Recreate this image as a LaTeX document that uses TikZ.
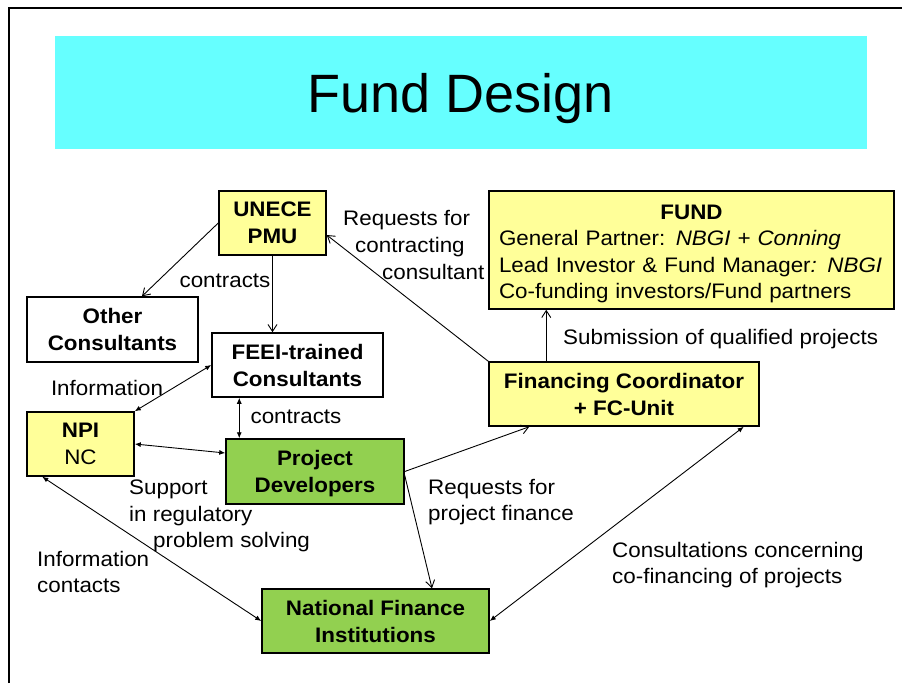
\documentclass[tikz,border=0pt]{standalone}
\usepackage{fontspec}
\setmainfont[FakeStretch=1.066]{Liberation Sans}
\newfontfamily\titlefont{Liberation Sans}
\usetikzlibrary{arrows.meta}
\definecolor{titlecyan}{HTML}{66FFFF}
\definecolor{boxyellow}{HTML}{FFFF99}
\definecolor{boxgreen}{HTML}{92D050}
\tikzset{
	box/.style={draw, line width=1.5pt, inner sep=0pt, text depth=0pt, align=center, font=\fontsize{21}{27}\selectfont\bfseries},
	lbl/.style={inner sep=0pt, align=left, font=\fontsize{21}{26.7}\selectfont},
	arr/.style={line width=0.9pt, -{Straight Barb[length=7pt,width=9pt]}},
	dbl/.style={line width=0.9pt, {Latex[length=6pt,width=5pt]}-{Latex[length=6pt,width=5pt]}}
}

\begin{document}
\begin{tikzpicture}[x=1pt, y=-1pt]
			%%%%% START %%%%%
			\useasboundingbox (0, 0) rectangle (902, 683);
			
			\draw[line width=2pt] (8.5, 683) -- (8.5, 7.5) -- (902, 7.5);
			
			\node[fill=titlecyan, minimum width=812pt, minimum height=113pt, inner sep=0pt, text depth=0pt, font=\titlefont\fontsize{54}{60}\selectfont] (title) at (461, 92.5) {Fund Design};
			
			\node[box, fill=boxyellow, minimum width=107pt, minimum height=64pt] (unece) at (272.5, 223) {UNECE\\PMU};
			\node[box, fill=white, minimum width=171pt, minimum height=65pt] (other) at (112.5, 329.5) {Other\\Consultants};
			\node[box, fill=white, minimum width=171pt, minimum height=64pt] (feei) at (297.5, 365) {FEEI-trained\\Consultants};
			\node[box, fill=boxyellow, minimum width=107pt, minimum height=64pt] (npi) at (80.5, 444) {NPI\\\mdseries NC};
			\node[draw, line width=1.5pt, fill=boxyellow, font=\fontsize{21}{26.4}\selectfont, align=left, text width=385pt, text depth=76pt, inner xsep=10pt, inner ysep=0pt, minimum height=118pt] (fund) at (691.5, 250) {\makebox[\linewidth][c]{\bfseries FUND}\\General Partner: \textit{NBGI + Conning}\\Lead Investor \& Fund Manager\textit{: NBGI}\\Co-funding investors/Fund partners};
			\node[box, fill=boxyellow, minimum width=270pt, minimum height=64pt] (fc) at (624, 394) {Financing Coordinator\\+ FC-Unit};
			\node[box, fill=boxgreen, minimum width=178pt, minimum height=65pt] (pd) at (315, 471.5) {Project\\Developers};
			\node[box, fill=boxgreen, minimum width=227pt, minimum height=64pt] (nfi) at (375.5, 621) {National Finance\\Institutions};
			
			\draw[arr] (unece.west) -- ([xshift=29.5pt]other.north);
			\draw[arr] (unece.south) -- (unece.south |- feei.north);
			\draw[arr] (fc.north west) -- ([yshift=-12pt]unece.east);
			\draw[dbl] (feei.west) -- (npi.north east);
			\draw[dbl] ([xshift=14pt]pd.north west |- feei.south) -- ([xshift=14pt]pd.north west);
			\draw[dbl] (npi.east) -- ([yshift=18.5pt]pd.west);
			\draw[dbl] ([xshift=16pt]npi.south west) -- (nfi.west);
			\draw[arr] ([yshift=-4pt]pd.east) -- ([xshift=56.5pt]nfi.north);
			\draw[arr] (pd.east) -- ([xshift=41pt]fc.south west);
			\draw[dbl] ([xshift=-16pt]fc.south east) -- (nfi.east);
			\draw[arr] ([xshift=58pt]fc.north west) -- ([xshift=58pt]fc.north west |- fund.south);
			
			\node[lbl] (lcontracts) at (225, 281) {contracts};
			\node[lbl] (linfo) at (107, 388) {Information};
			\node[lbl] (lcontractsb) at (296, 417) {contracts};
			\node[lbl, anchor=west] (lrequests) at (343, 245) {Requests for\\\hspace*{12pt}contracting\\\hspace*{39pt}consultant};
			\node[lbl, anchor=west] (lsubmit) at (563, 339) {Submission of qualified projects};
			\node[lbl, anchor=west] (lsupport) at (129, 516) {Support\\in regulatory\\\hspace*{24pt}problem solving};
			\node[lbl, anchor=west] (linfob) at (37, 572) {Information\\contacts};
			\node[lbl, anchor=west] (lrequestsb) at (428, 502) {Requests for\\project finance};
			\node[lbl, anchor=west] (lconsult) at (612, 565) {Consultations concerning\\co-financing of projects};
			
			%%%%% END %%%%%
\end{tikzpicture}
\end{document}
